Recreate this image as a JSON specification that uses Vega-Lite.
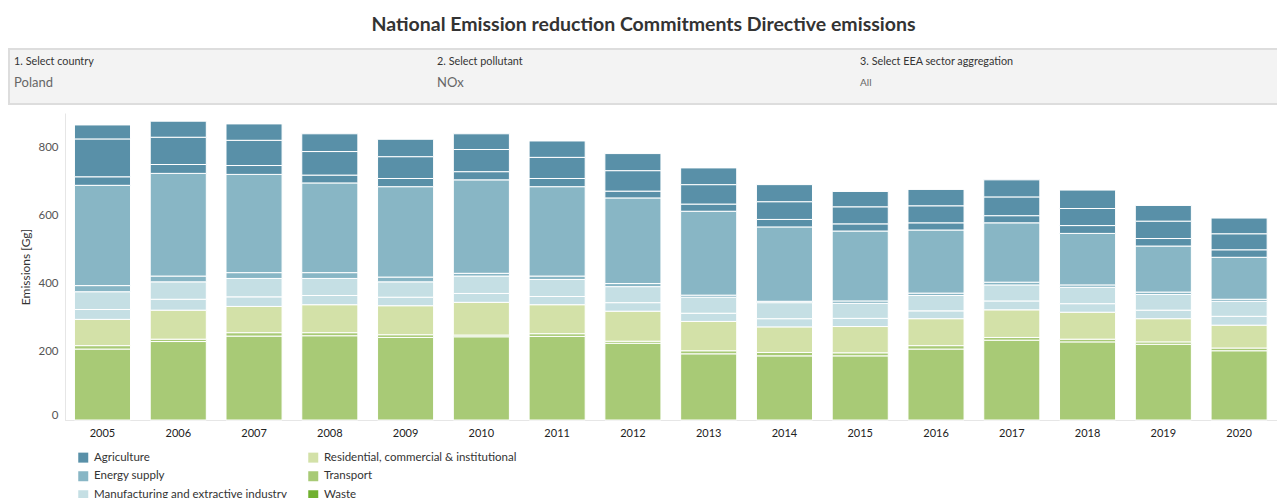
{
  "$schema": "https://vega.github.io/schema/vega-lite/v6.json",
  "background": "white",
  "padding": {"left": 8, "top": 14, "right": 0, "bottom": 0},
  "title": {"text": "National Emission reduction Commitments Directive emissions", "anchor": "middle", "fontSize": 19.5, "font": "Lato", "fontWeight": "bold", "color": "#333333", "offset": 13},
  "config": {"view": {"stroke": null}, "font": "Lato", "concat": {"spacing": 8}},
  "vconcat": [
    {
      "width": 1269,
      "height": 55,
      "view": {"fill": "#f3f3f3", "stroke": "#dddddd", "strokeWidth": 2},
      "data": {"values": [
        {"col": 0, "kind": "label", "text": "1. Select country"},
        {"col": 0, "kind": "value", "text": "Poland"},
        {"col": 1, "kind": "label", "text": "2. Select pollutant"},
        {"col": 1, "kind": "value", "text": "NOx"},
        {"col": 2, "kind": "label", "text": "3. Select EEA sector aggregation"},
        {"col": 2, "kind": "value", "text": "All"}
      ]},
      "mark": {"type": "text", "align": "left", "baseline": "middle", "font": "Lato"},
      "encoding": {
        "x": {"field": "col", "type": "quantitative", "scale": {"domain": [-0.012, 2.988], "nice": false, "zero": false}, "axis": null},
        "y": {"field": "kind", "type": "nominal", "scale": {"type": "point", "domain": ["label", "value"], "padding": 0.81, "align": 0.38}, "axis": null},
        "text": {"field": "text"},
        "size": {"condition": [{"test": "datum.kind === 'label'", "value": 10.8}, {"test": "datum.text === 'All'", "value": 10}], "value": 13},
        "color": {"condition": {"test": "datum.kind === 'label'", "value": "#333333"}, "value": "#666666"}
      }
    },
    {
      "width": 1269,
      "height": 307,
      "data": {"values": [
        {"year": 2005, "sector": "Transport", "order": 1, "value": 208},
        {"year": 2005, "sector": "Transport", "order": 2, "value": 10},
        {"year": 2005, "sector": "Residential, commercial & institutional", "order": 3, "value": 77},
        {"year": 2005, "sector": "Manufacturing and extractive industry", "order": 4, "value": 29},
        {"year": 2005, "sector": "Manufacturing and extractive industry", "order": 5, "value": 52},
        {"year": 2005, "sector": "Energy supply", "order": 6, "value": 18},
        {"year": 2005, "sector": "Energy supply", "order": 7, "value": 294},
        {"year": 2005, "sector": "Agriculture", "order": 8, "value": 25},
        {"year": 2005, "sector": "Agriculture", "order": 9, "value": 111},
        {"year": 2005, "sector": "Agriculture", "order": 10, "value": 41},
        {"year": 2006, "sector": "Transport", "order": 1, "value": 230},
        {"year": 2006, "sector": "Transport", "order": 2, "value": 7},
        {"year": 2006, "sector": "Residential, commercial & institutional", "order": 3, "value": 85},
        {"year": 2006, "sector": "Manufacturing and extractive industry", "order": 4, "value": 32},
        {"year": 2006, "sector": "Manufacturing and extractive industry", "order": 5, "value": 51},
        {"year": 2006, "sector": "Energy supply", "order": 6, "value": 17},
        {"year": 2006, "sector": "Energy supply", "order": 7, "value": 301},
        {"year": 2006, "sector": "Agriculture", "order": 8, "value": 26},
        {"year": 2006, "sector": "Agriculture", "order": 9, "value": 80},
        {"year": 2006, "sector": "Agriculture", "order": 10, "value": 47},
        {"year": 2007, "sector": "Transport", "order": 1, "value": 246},
        {"year": 2007, "sector": "Transport", "order": 2, "value": 10},
        {"year": 2007, "sector": "Residential, commercial & institutional", "order": 3, "value": 77},
        {"year": 2007, "sector": "Manufacturing and extractive industry", "order": 4, "value": 28},
        {"year": 2007, "sector": "Manufacturing and extractive industry", "order": 5, "value": 54},
        {"year": 2007, "sector": "Energy supply", "order": 6, "value": 17},
        {"year": 2007, "sector": "Energy supply", "order": 7, "value": 288},
        {"year": 2007, "sector": "Agriculture", "order": 8, "value": 26},
        {"year": 2007, "sector": "Agriculture", "order": 9, "value": 74},
        {"year": 2007, "sector": "Agriculture", "order": 10, "value": 48},
        {"year": 2008, "sector": "Transport", "order": 1, "value": 247},
        {"year": 2008, "sector": "Transport", "order": 2, "value": 9},
        {"year": 2008, "sector": "Residential, commercial & institutional", "order": 3, "value": 82},
        {"year": 2008, "sector": "Manufacturing and extractive industry", "order": 4, "value": 27},
        {"year": 2008, "sector": "Manufacturing and extractive industry", "order": 5, "value": 50},
        {"year": 2008, "sector": "Energy supply", "order": 6, "value": 17},
        {"year": 2008, "sector": "Energy supply", "order": 7, "value": 263},
        {"year": 2008, "sector": "Agriculture", "order": 8, "value": 23},
        {"year": 2008, "sector": "Agriculture", "order": 9, "value": 69},
        {"year": 2008, "sector": "Agriculture", "order": 10, "value": 52},
        {"year": 2009, "sector": "Transport", "order": 1, "value": 242},
        {"year": 2009, "sector": "Transport", "order": 2, "value": 8},
        {"year": 2009, "sector": "Residential, commercial & institutional", "order": 3, "value": 85},
        {"year": 2009, "sector": "Manufacturing and extractive industry", "order": 4, "value": 25},
        {"year": 2009, "sector": "Manufacturing and extractive industry", "order": 5, "value": 45},
        {"year": 2009, "sector": "Energy supply", "order": 6, "value": 14},
        {"year": 2009, "sector": "Energy supply", "order": 7, "value": 265},
        {"year": 2009, "sector": "Agriculture", "order": 8, "value": 24},
        {"year": 2009, "sector": "Agriculture", "order": 9, "value": 64},
        {"year": 2009, "sector": "Agriculture", "order": 10, "value": 51},
        {"year": 2010, "sector": "Transport", "order": 1, "value": 244},
        {"year": 2010, "sector": "Transport", "order": 2, "value": 5},
        {"year": 2010, "sector": "Residential, commercial & institutional", "order": 3, "value": 96},
        {"year": 2010, "sector": "Manufacturing and extractive industry", "order": 4, "value": 26},
        {"year": 2010, "sector": "Manufacturing and extractive industry", "order": 5, "value": 51},
        {"year": 2010, "sector": "Energy supply", "order": 6, "value": 8},
        {"year": 2010, "sector": "Energy supply", "order": 7, "value": 274},
        {"year": 2010, "sector": "Agriculture", "order": 8, "value": 24},
        {"year": 2010, "sector": "Agriculture", "order": 9, "value": 65},
        {"year": 2010, "sector": "Agriculture", "order": 10, "value": 46},
        {"year": 2011, "sector": "Transport", "order": 1, "value": 245},
        {"year": 2011, "sector": "Transport", "order": 2, "value": 8},
        {"year": 2011, "sector": "Residential, commercial & institutional", "order": 3, "value": 85},
        {"year": 2011, "sector": "Manufacturing and extractive industry", "order": 4, "value": 24},
        {"year": 2011, "sector": "Manufacturing and extractive industry", "order": 5, "value": 50},
        {"year": 2011, "sector": "Energy supply", "order": 6, "value": 10},
        {"year": 2011, "sector": "Energy supply", "order": 7, "value": 262},
        {"year": 2011, "sector": "Agriculture", "order": 8, "value": 24},
        {"year": 2011, "sector": "Agriculture", "order": 9, "value": 62},
        {"year": 2011, "sector": "Agriculture", "order": 10, "value": 48},
        {"year": 2012, "sector": "Transport", "order": 1, "value": 225},
        {"year": 2012, "sector": "Transport", "order": 2, "value": 6},
        {"year": 2012, "sector": "Residential, commercial & institutional", "order": 3, "value": 88},
        {"year": 2012, "sector": "Manufacturing and extractive industry", "order": 4, "value": 25},
        {"year": 2012, "sector": "Manufacturing and extractive industry", "order": 5, "value": 47},
        {"year": 2012, "sector": "Energy supply", "order": 6, "value": 9},
        {"year": 2012, "sector": "Energy supply", "order": 7, "value": 251},
        {"year": 2012, "sector": "Agriculture", "order": 8, "value": 20},
        {"year": 2012, "sector": "Agriculture", "order": 9, "value": 60},
        {"year": 2012, "sector": "Agriculture", "order": 10, "value": 50},
        {"year": 2013, "sector": "Transport", "order": 1, "value": 194},
        {"year": 2013, "sector": "Transport", "order": 2, "value": 9},
        {"year": 2013, "sector": "Residential, commercial & institutional", "order": 3, "value": 86},
        {"year": 2013, "sector": "Manufacturing and extractive industry", "order": 4, "value": 24},
        {"year": 2013, "sector": "Manufacturing and extractive industry", "order": 5, "value": 47},
        {"year": 2013, "sector": "Energy supply", "order": 6, "value": 6},
        {"year": 2013, "sector": "Energy supply", "order": 7, "value": 246},
        {"year": 2013, "sector": "Agriculture", "order": 8, "value": 21},
        {"year": 2013, "sector": "Agriculture", "order": 9, "value": 57},
        {"year": 2013, "sector": "Agriculture", "order": 10, "value": 49},
        {"year": 2014, "sector": "Transport", "order": 1, "value": 188},
        {"year": 2014, "sector": "Transport", "order": 2, "value": 10},
        {"year": 2014, "sector": "Residential, commercial & institutional", "order": 3, "value": 75},
        {"year": 2014, "sector": "Manufacturing and extractive industry", "order": 4, "value": 24},
        {"year": 2014, "sector": "Manufacturing and extractive industry", "order": 5, "value": 47},
        {"year": 2014, "sector": "Energy supply", "order": 6, "value": 4},
        {"year": 2014, "sector": "Energy supply", "order": 7, "value": 218},
        {"year": 2014, "sector": "Agriculture", "order": 8, "value": 22},
        {"year": 2014, "sector": "Agriculture", "order": 9, "value": 52},
        {"year": 2014, "sector": "Agriculture", "order": 10, "value": 50},
        {"year": 2015, "sector": "Transport", "order": 1, "value": 188},
        {"year": 2015, "sector": "Transport", "order": 2, "value": 9},
        {"year": 2015, "sector": "Residential, commercial & institutional", "order": 3, "value": 77},
        {"year": 2015, "sector": "Manufacturing and extractive industry", "order": 4, "value": 24},
        {"year": 2015, "sector": "Manufacturing and extractive industry", "order": 5, "value": 44},
        {"year": 2015, "sector": "Energy supply", "order": 6, "value": 7},
        {"year": 2015, "sector": "Energy supply", "order": 7, "value": 205},
        {"year": 2015, "sector": "Agriculture", "order": 8, "value": 21},
        {"year": 2015, "sector": "Agriculture", "order": 9, "value": 50},
        {"year": 2015, "sector": "Agriculture", "order": 10, "value": 45},
        {"year": 2016, "sector": "Transport", "order": 1, "value": 208},
        {"year": 2016, "sector": "Transport", "order": 2, "value": 10},
        {"year": 2016, "sector": "Residential, commercial & institutional", "order": 3, "value": 79},
        {"year": 2016, "sector": "Manufacturing and extractive industry", "order": 4, "value": 23},
        {"year": 2016, "sector": "Manufacturing and extractive industry", "order": 5, "value": 45},
        {"year": 2016, "sector": "Energy supply", "order": 6, "value": 7},
        {"year": 2016, "sector": "Energy supply", "order": 7, "value": 185},
        {"year": 2016, "sector": "Agriculture", "order": 8, "value": 21},
        {"year": 2016, "sector": "Agriculture", "order": 9, "value": 50},
        {"year": 2016, "sector": "Agriculture", "order": 10, "value": 48},
        {"year": 2017, "sector": "Transport", "order": 1, "value": 234},
        {"year": 2017, "sector": "Transport", "order": 2, "value": 8},
        {"year": 2017, "sector": "Residential, commercial & institutional", "order": 3, "value": 81},
        {"year": 2017, "sector": "Manufacturing and extractive industry", "order": 4, "value": 26},
        {"year": 2017, "sector": "Manufacturing and extractive industry", "order": 5, "value": 47},
        {"year": 2017, "sector": "Energy supply", "order": 6, "value": 8},
        {"year": 2017, "sector": "Energy supply", "order": 7, "value": 174},
        {"year": 2017, "sector": "Agriculture", "order": 8, "value": 21},
        {"year": 2017, "sector": "Agriculture", "order": 9, "value": 55},
        {"year": 2017, "sector": "Agriculture", "order": 10, "value": 50},
        {"year": 2018, "sector": "Transport", "order": 1, "value": 229},
        {"year": 2018, "sector": "Transport", "order": 2, "value": 8},
        {"year": 2018, "sector": "Residential, commercial & institutional", "order": 3, "value": 79},
        {"year": 2018, "sector": "Manufacturing and extractive industry", "order": 4, "value": 25},
        {"year": 2018, "sector": "Manufacturing and extractive industry", "order": 5, "value": 48},
        {"year": 2018, "sector": "Energy supply", "order": 6, "value": 7},
        {"year": 2018, "sector": "Energy supply", "order": 7, "value": 151},
        {"year": 2018, "sector": "Agriculture", "order": 8, "value": 23},
        {"year": 2018, "sector": "Agriculture", "order": 9, "value": 50},
        {"year": 2018, "sector": "Agriculture", "order": 10, "value": 54},
        {"year": 2019, "sector": "Transport", "order": 1, "value": 222},
        {"year": 2019, "sector": "Transport", "order": 2, "value": 7},
        {"year": 2019, "sector": "Residential, commercial & institutional", "order": 3, "value": 68},
        {"year": 2019, "sector": "Manufacturing and extractive industry", "order": 4, "value": 25},
        {"year": 2019, "sector": "Manufacturing and extractive industry", "order": 5, "value": 46},
        {"year": 2019, "sector": "Energy supply", "order": 6, "value": 7},
        {"year": 2019, "sector": "Energy supply", "order": 7, "value": 135},
        {"year": 2019, "sector": "Agriculture", "order": 8, "value": 22},
        {"year": 2019, "sector": "Agriculture", "order": 9, "value": 51},
        {"year": 2019, "sector": "Agriculture", "order": 10, "value": 46},
        {"year": 2020, "sector": "Transport", "order": 1, "value": 203},
        {"year": 2020, "sector": "Transport", "order": 2, "value": 8},
        {"year": 2020, "sector": "Residential, commercial & institutional", "order": 3, "value": 67},
        {"year": 2020, "sector": "Manufacturing and extractive industry", "order": 4, "value": 26},
        {"year": 2020, "sector": "Manufacturing and extractive industry", "order": 5, "value": 44},
        {"year": 2020, "sector": "Energy supply", "order": 6, "value": 6},
        {"year": 2020, "sector": "Energy supply", "order": 7, "value": 123},
        {"year": 2020, "sector": "Agriculture", "order": 8, "value": 22},
        {"year": 2020, "sector": "Agriculture", "order": 9, "value": 47},
        {"year": 2020, "sector": "Agriculture", "order": 10, "value": 46}
      ]},
      "mark": {"type": "bar", "stroke": "white", "strokeWidth": 1},
      "encoding": {
        "x": {
          "field": "year", "type": "ordinal",
          "scale": {"range": [55.6, 1268], "paddingInner": 0.26, "paddingOuter": 0.13},
          "axis": {"title": null, "labelAngle": 0, "ticks": false, "domainColor": "#e6e6e6", "labelPadding": 7, "labelFontSize": 11, "labelColor": "#222222", "labelFont": "Lato"}
        },
        "y": {
          "field": "value", "type": "quantitative", "stack": "zero",
          "scale": {"domain": [0, 900], "nice": false},
          "axis": {"title": "Emissions [Gg]", "values": [0, 200, 400, 600, 800], "grid": false, "ticks": false, "offset": -56, "domainColor": "#e6e6e6", "labelPadding": 7, "labelColor": "#555555", "labelFontSize": 11.5, "labelFont": "Lato", "labelFlush": true, "titleFont": "Lato", "titleFontSize": 12, "titleFontWeight": "normal", "titleColor": "#333333", "titlePadding": 5}
        },
        "color": {
          "field": "sector", "type": "nominal",
          "scale": {
            "domain": ["Agriculture", "Energy supply", "Manufacturing and extractive industry", "Residential, commercial & institutional", "Transport", "Waste"],
            "range": ["#5990a8", "#88b6c5", "#c5dfe4", "#d3e1a8", "#a8ca76", "#70b02f"]
          },
          "legend": {"title": null, "orient": "none", "legendX": 68.5, "legendY": 402.5, "columns": 2, "symbolType": "square", "symbolSize": 100, "symbolStrokeWidth": 0, "symbolOpacity": 1, "labelFontSize": 11.5, "labelFont": "Lato", "labelColor": "#333333", "labelLimit": 0, "rowPadding": 6, "columnPadding": 20, "labelOffset": 5}
        },
        "order": {"field": "order", "type": "quantitative"}
      }
    }
  ]
}
